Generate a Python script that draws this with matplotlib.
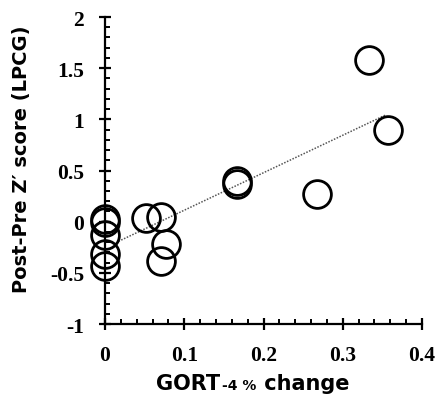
import numpy as np
import matplotlib
matplotlib.use("Agg")
import matplotlib.pyplot as plt
from matplotlib.ticker import MultipleLocator
from matplotlib.offsetbox import TextArea, HPacker, AnnotationBbox

# GORT-4 % change vs post-pre Z' score (LPCG)
gort_change = [0.0, 0.0, 0.0, 0.0, 0.0, 0.052, 0.071, 0.077, 0.071,
               0.167, 0.167, 0.267, 0.333, 0.357]
z_score = [0.03, 0.0, -0.13, -0.32, -0.43, 0.04, 0.05, -0.22, -0.38,
           0.40, 0.37, 0.27, 1.58, 0.90]
fit_range = [0.017, 0.355]

x_ticks = [0, 0.1, 0.2, 0.3, 0.4]
x_ticklabels = ["0", "0.1", "0.2", "0.3", "0.4"]
y_ticks = [-1, -0.5, 0, 0.5, 1, 1.5, 2]
y_ticklabels = ["-1", "-0.5", "0", "0.5", "1", "1.5", "2"]

fig = plt.figure(figsize=(4.38, 4.02), dpi=100)
ax = fig.add_axes([0.2397, 0.1915, 0.7238, 0.7637])

# linear fit, dotted
slope, icpt = np.polyfit(gort_change, z_score, 1)
fx = np.array(fit_range)
ax.plot(fx, slope * fx + icpt, color='#555555', lw=1.1, ls=(0, (1, 1)), zorder=2)

ax.plot(gort_change, z_score, 'o', ms=20, mfc='none', mec='black', mew=2.0,
        clip_on=False, zorder=3)

ax.set_xlim(0, 0.4)
ax.set_ylim(-1, 2)
for s in ['top', 'right']:
    ax.spines[s].set_visible(False)
for s in ['left', 'bottom']:
    ax.spines[s].set_linewidth(1.6)

ax.set_xticks(x_ticks)
ax.set_xticklabels(x_ticklabels)
ax.set_yticks(y_ticks)
ax.set_yticklabels(y_ticklabels)
ax.xaxis.set_minor_locator(MultipleLocator(0.02))
ax.yaxis.set_minor_locator(MultipleLocator(0.1))
ax.tick_params(which='major', direction='inout', length=8, width=1.6)
ax.tick_params(which='minor', direction='in', length=3.5, width=1.4)
ax.tick_params(axis='x', which='major', pad=11)
ax.tick_params(axis='y', which='major', pad=11)
for lab in ax.get_xticklabels() + ax.get_yticklabels():
    lab.set_fontfamily('Liberation Serif')
    lab.set_fontweight('bold')
    lab.set_fontsize(15.5)

lab_font = dict(family='DejaVu Sans', weight='bold')
fig.text(22 / 438, 1 - 159 / 402, "Post-Pre Z\u2032 score (LPCG)", rotation=90,
         ha='center', va='center', fontsize=14, **lab_font)

parts = HPacker(children=[
    TextArea("GORT", textprops=dict(fontsize=15, **lab_font)),
    TextArea("-4 %", textprops=dict(fontsize=10, **lab_font)),
    TextArea(" change", textprops=dict(fontsize=15, **lab_font)),
], align='baseline', pad=0, sep=1)
ab = AnnotationBbox(parts, (253 / 438, 1 - 384 / 402), xycoords='figure fraction',
                    frameon=False, box_alignment=(0.5, 0.5))
fig.add_artist(ab)

fig.savefig("out.png", dpi=100)
